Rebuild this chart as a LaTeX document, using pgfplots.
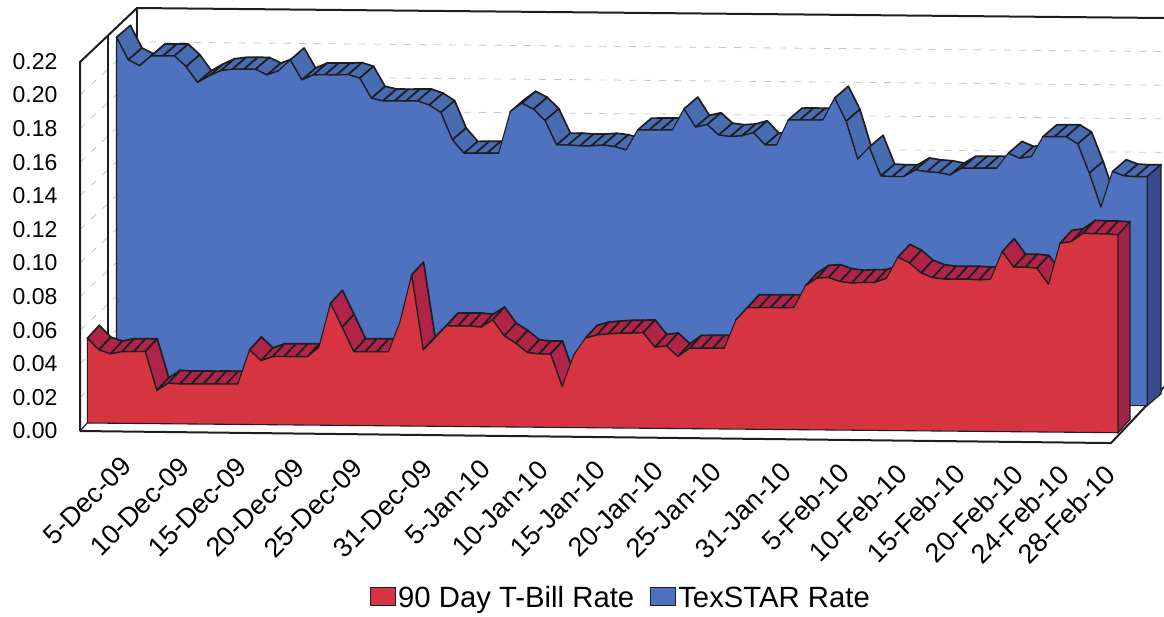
\documentclass[border=0pt]{standalone}
\usepackage{pgfplots}
\usepackage{pgfplotstable}
\usepackage{fontspec}
\setmainfont{Liberation Sans}
\pgfplotsset{compat=1.18}

\definecolor{billface}{RGB}{214,52,64}
\definecolor{billband}{RGB}{176,36,72}
\definecolor{billside}{RGB}{160,34,70}
\definecolor{starface}{RGB}{78,113,192}
\definecolor{starband}{RGB}{72,108,178}
\definecolor{starside}{RGB}{58,74,140}
\definecolor{edge}{RGB}{30,30,34}

% Daily rates from 1-Dec-09 to 28-Feb-10; the first and last rows close the area at zero.
\pgfplotstableread{
i v
0 0
0 0.0504
1 0.0435
2 0.0412
3 0.0426
4 0.0427
5 0.0428
6 0.0196
7 0.0241
8 0.0237
9 0.0238
10 0.0238
11 0.0239
12 0.0239
13 0.0240
14 0.0444
15 0.0380
16 0.0405
17 0.0406
18 0.0406
19 0.0406
20 0.0464
21 0.0726
22 0.0584
23 0.0439
24 0.0440
25 0.0440
26 0.0440
27 0.0620
28 0.0899
29 0.0453
30 0.0524
31 0.0598
32 0.0598
33 0.0599
34 0.0592
35 0.0636
36 0.0541
37 0.0498
38 0.0443
39 0.0436
40 0.0437
41 0.0243
42 0.0432
43 0.0532
44 0.0552
45 0.0559
46 0.0564
47 0.0565
48 0.0568
49 0.0482
50 0.0491
51 0.0428
52 0.0478
53 0.0479
54 0.0480
55 0.0480
56 0.0649
57 0.0723
58 0.0724
59 0.0725
60 0.0725
61 0.0726
62 0.0856
63 0.0902
64 0.0907
65 0.0884
66 0.0875
67 0.0879
68 0.0880
69 0.0906
70 0.1032
71 0.0998
72 0.0939
73 0.0912
74 0.0904
75 0.0904
76 0.0905
77 0.0901
78 0.0906
79 0.1071
80 0.0979
81 0.0980
82 0.0974
83 0.0879
84 0.1124
85 0.1135
86 0.1185
87 0.1182
88 0.1182
89 0.1177
89 0
}\billrate

\pgfplotstableread{
i v
0 0
0 0.2135
1 0.2001
2 0.1967
3 0.2026
4 0.2026
5 0.2027
6 0.1964
7 0.1870
8 0.1910
9 0.1942
10 0.1951
11 0.1952
12 0.1952
13 0.1919
14 0.1945
15 0.2010
16 0.1891
17 0.1922
18 0.1923
19 0.1923
20 0.1926
21 0.1905
22 0.1786
23 0.1771
24 0.1771
25 0.1772
26 0.1773
27 0.1749
28 0.1705
29 0.1543
30 0.1464
31 0.1465
32 0.1466
33 0.1466
34 0.1714
35 0.1765
36 0.1730
37 0.1663
38 0.1518
39 0.1519
40 0.1514
41 0.1515
42 0.1520
43 0.1512
44 0.1493
45 0.1612
46 0.1613
47 0.1614
48 0.1614
49 0.1740
50 0.1632
51 0.1648
52 0.1587
53 0.1578
54 0.1583
55 0.1603
56 0.1530
57 0.1531
58 0.1680
59 0.1681
60 0.1681
61 0.1682
62 0.1813
63 0.1676
64 0.1451
65 0.1523
66 0.1352
67 0.1349
68 0.1350
69 0.1390
70 0.1380
71 0.1375
72 0.1362
73 0.1403
74 0.1404
75 0.1404
76 0.1405
77 0.1494
78 0.1465
79 0.1476
80 0.1595
81 0.1596
82 0.1596
83 0.1554
84 0.1380
85 0.1179
86 0.1391
87 0.1366
88 0.1362
89 0.1363
89 0
}\starrate

% Top surface of a series: one parallelogram per day, leaving out faces turned away from the viewer.
% #1 table, #2 #3 plane offset, #4 #5 depth, #6 fill colour
\newcommand{\topsurface}[6]{%
  \pgfplotsforeachungrouped \row in {1,...,89}{%
    \pgfmathtruncatemacro{\nextrow}{\row+1}%
    \pgfplotstablegetelem{\row}{v}\of#1\let\va\pgfplotsretval
    \pgfplotstablegetelem{\nextrow}{v}\of#1\let\vb\pgfplotsretval
    \pgfmathsetmacro{\turned}{1000*#5-1000*(\vb-\va)*#4}%
    \pgfmathparse{\turned>0?1:0}%
    \ifnum\pgfmathresult>0
      \pgfmathsetmacro{\xa}{\row-1+#2}%
      \pgfmathsetmacro{\xb}{\row+#2}%
      \pgfmathsetmacro{\xc}{\row+#2+#4}%
      \pgfmathsetmacro{\xd}{\row-1+#2+#4}%
      \pgfmathsetmacro{\ya}{\va+#3}%
      \pgfmathsetmacro{\yb}{\vb+#3}%
      \pgfmathsetmacro{\yc}{\vb+#3+#5}%
      \pgfmathsetmacro{\yd}{\va+#3+#5}%
      \edef\segment{\noexpand\addplot[forget plot,fill=#6,draw=edge,line width=1.7pt,line join=round]
        coordinates {(\xa,\ya)(\xb,\yb)(\xc,\yc)(\xd,\yd)} -- cycle;}%
      \segment
    \fi
  }%
}

\begin{document}
\begin{tikzpicture}
\path[use as bounding box] (0,0) rectangle (1164pt,-616pt);
\begin{axis}[
  at={(87.3pt,-423pt)}, anchor=origin,
  x={(11.58pt,-0.109pt)}, y={(0pt,1680pt)},
  xmin=-0.63, xmax=93, ymin=-0.0048, ymax=0.25,
  clip=false,
  axis line style={draw=none},
  tick style={draw=none},
  xtick pos=left, ytick pos=left,
  ytick={0,0.02,0.04,0.06,0.08,0.10,0.12,0.14,0.16,0.18,0.20,0.22},
  yticklabel style={
    /pgf/number format/fixed,
    /pgf/number format/fixed zerofill,
    /pgf/number format/precision=2,
    /pgf/number format/assume math mode=true,
    font=\fontsize{23}{26}\selectfont,
    anchor=east, xshift=-19pt, yshift=-8pt},
  xtick={3.37,8.37,13.37,18.37,23.37,29.37,34.37,39.37,44.37,49.37,54.37,60.37,65.37,70.37,75.37,80.37,84.37,88.37},
  xticklabels={5-Dec-09,10-Dec-09,15-Dec-09,20-Dec-09,25-Dec-09,31-Dec-09,5-Jan-10,10-Jan-10,15-Jan-10,20-Jan-10,25-Jan-10,31-Jan-10,5-Feb-10,10-Feb-10,15-Feb-10,20-Feb-10,24-Feb-10,28-Feb-10},
  xticklabel style={font=\fontsize{27}{29}\selectfont, rotate=45, anchor=east, xshift=-21pt, yshift=-21pt, inner sep=0pt},
  legend style={at={(axis cs:46.09,-0.1012)}, anchor=center, draw=none, fill=none,
    legend columns=2, font=\fontsize{29.3}{32}\selectfont, inner sep=0pt,
    /tikz/every even column/.append style={column sep=14pt}},
  legend image code/.code={\draw[#1,line width=1pt] (0pt,-7pt) rectangle (25pt,11pt);},
]
% Walls and floor
\pgfplotsinvokeforeach{0.02,0.04,0.06,0.08,0.10,0.12,0.14,0.16,0.18,0.20}{
  \pgfmathsetmacro{\ya}{#1-0.0048}
  \pgfmathsetmacro{\yb}{#1+0.0271}
  \edef\gridrun{\noexpand\addplot[forget plot,gray!45,line width=0.8pt,dash pattern=on 7pt off 8pt]
    coordinates {(-0.63,\ya)(4.29,\yb)(92.98,\yb)};}
  \gridrun
}
\addplot[forget plot,edge,line width=2pt] coordinates {(-0.63,-0.0048)(-0.63,0.2148)(4.29,0.2473)(92.98,0.2471)};
\addplot[forget plot,edge,line width=1.5pt] coordinates {(1.79,0.0079)(1.79,0.2305)};
\addplot[forget plot,edge,line width=1.5pt] coordinates {(4.29,0.0271)(4.29,0.2473)};
\addplot[forget plot,edge,line width=2pt] coordinates {(-0.63,-0.0048)(88.4,-0.0062)(92.98,0.0275)};
\addplot[forget plot,edge,line width=1.2pt] coordinates {(-0.63,-0.0048)(0,0)};

% TexSTAR series, on the rear plane
\topsurface{\starrate}{2.52}{0.01623}{1.2}{0.0072}{starband}
\addplot[forget plot,fill=starside,draw=edge,line width=1.1pt]
  coordinates {(91.52,0.01623)(91.52,0.1525)(92.72,0.1597)(92.72,0.0234)} -- cycle;
\addplot[fill=starface,draw=edge,line width=1.1pt,line join=round,forget plot]
  table[x expr=\thisrow{i}+2.52,y expr=\thisrow{v}+0.01623]{\starrate} -- cycle;

% T-Bill series, on the front plane
\topsurface{\billrate}{0}{0}{1.036}{0.0078}{billband}
\addplot[forget plot,fill=billside,draw=edge,line width=1.1pt]
  coordinates {(89,0)(89,0.1177)(90.04,0.1255)(90.04,0.0078)} -- cycle;
\addplot[fill=billface,draw=edge,line width=1.1pt,line join=round,forget plot]
  table[x=i,y=v]{\billrate} -- cycle;

\addlegendimage{fill=billface,draw=edge}
\addlegendentry{90 Day T-Bill Rate}
\addlegendimage{fill=starface,draw=edge}
\addlegendentry{TexSTAR Rate}
\end{axis}
\end{tikzpicture}
\end{document}
